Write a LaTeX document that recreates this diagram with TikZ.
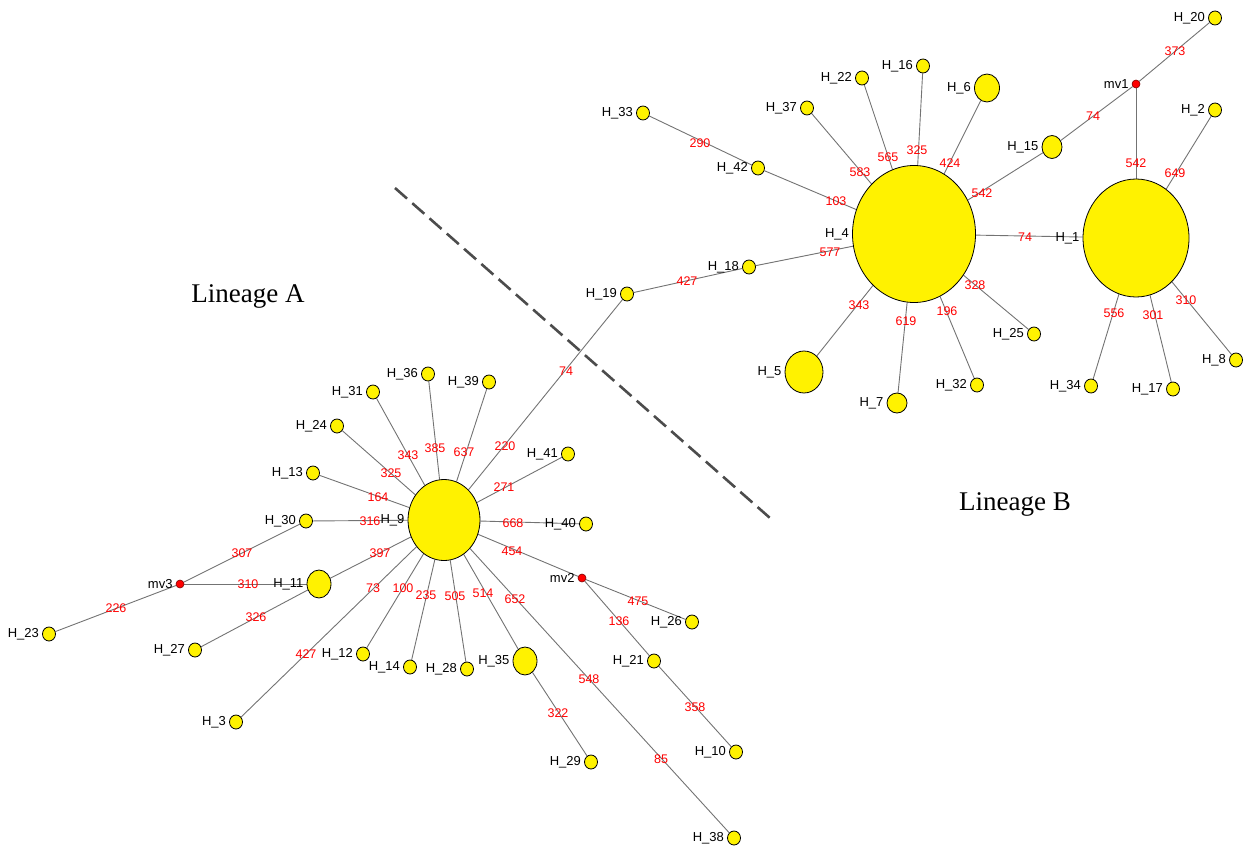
\documentclass[tikz,border=0pt]{standalone}
\usepackage{fontspec}
\setmainfont{Liberation Serif}
\newfontfamily\hfont{Liberation Sans}
\usetikzlibrary{shapes.geometric,backgrounds}
\tikzset{
  hap/.style={ellipse, draw=black, fill=yellow, inner sep=0pt, line width=0.8pt, minimum width=13pt, minimum height=14pt},
  mvn/.style={circle, draw=black!50!red, fill=red, inner sep=0pt, minimum size=8pt, line width=0.6pt},
  num/.style={text=red, font=\hfont\fontsize{12.5}{12.5}\selectfont, inner sep=0pt},
  hname/.style={font=\hfont\fontsize{13}{13}\selectfont, inner sep=0pt, text=black},
  conn/.style={draw=black!55, line width=0.9pt},
  lin/.style={font=\fontsize{27}{27}\selectfont, inner sep=0pt},
  divider/.style={draw=black!70, line width=2.6pt, dash pattern=on 16pt off 7pt}
}
\begin{document}
\begin{tikzpicture}[x=1pt, y=-1pt, label distance=3pt]
\useasboundingbox (0,0) rectangle (1246,848);
% ---------- Lineage B ----------
\node[hap, minimum width=123pt, minimum height=137pt, label={[hname]left:H\_4}] (h4) at (914,234) {};
\node[hap, minimum width=106pt, minimum height=118pt, label={[hname]left:H\_1}] (h1) at (1136,238) {};
\node[hap, minimum width=38pt, minimum height=42pt, label={[hname]left:H\_5}] (h5) at (804,372) {};
\node[hap, minimum width=25pt, minimum height=28pt, label={[hname]left:H\_6}] (h6) at (987,88) {};
\node[hap, minimum width=20pt, minimum height=23pt, label={[hname]left:H\_15}] (h15) at (1052,147) {};
\node[hap, minimum width=20pt, minimum height=20pt, label={[hname]left:H\_7}] (h7) at (897,403) {};
\node[hap, label={[hname]left:H\_33}] (h33) at (643,113) {};
\node[hap, label={[hname]left:H\_22}] (h22) at (862,78) {};
\node[hap, label={[hname]left:H\_16}] (h16) at (923,66) {};
\node[hap, label={[hname]left:H\_37}] (h37) at (807,108) {};
\node[hap, label={[hname]left:H\_42}] (h42) at (758,168) {};
\node[hap, label={[hname]left:H\_20}] (h20) at (1215,18) {};
\node[mvn, label={[hname]left:mv1}] (mv1) at (1136,84) {};
\node[hap, label={[hname]left:H\_2}] (h2) at (1215,110) {};
\node[hap, label={[hname]left:H\_18}] (h18) at (749,267) {};
\node[hap, label={[hname]left:H\_19}] (h19) at (627,294) {};
\node[hap, label={[hname]left:H\_32}] (h32) at (977,385) {};
\node[hap, label={[hname]left:H\_25}] (h25) at (1034,334) {};
\node[hap, label={[hname]left:H\_34}] (h34) at (1091,386) {};
\node[hap, label={[hname]left:H\_17}] (h17) at (1173,389) {};
\node[hap, label={[hname]left:H\_8}] (h8) at (1236,360) {};
% ---------- Lineage A ----------
\node[hap, minimum width=72pt, minimum height=81pt, label={[hname]left:H\_9}] (h9) at (444,520) {};
\node[hap, minimum width=24pt, minimum height=28pt, label={[hname]left:H\_11}] (h11) at (319,584) {};
\node[hap, minimum width=24pt, minimum height=28pt, label={[hname]left:H\_35}] (h35) at (525,661) {};
\node[hap, label={[hname]left:H\_31}] (h31) at (373,392) {};
\node[hap, label={[hname]left:H\_24}] (h24) at (337,426) {};
\node[hap, label={[hname]left:H\_13}] (h13) at (313,473) {};
\node[hap, label={[hname]left:H\_30}] (h30) at (306,521) {};
\node[hap, label={[hname]left:H\_36}] (h36) at (428,374) {};
\node[hap, label={[hname]left:H\_39}] (h39) at (489,382) {};
\node[hap, label={[hname]left:H\_41}] (h41) at (568,454) {};
\node[hap, label={[hname]left:H\_40}] (h40) at (586,524) {};
\node[mvn, label={[hname]left:mv3}] (mv3) at (180,584) {};
\node[hap, label={[hname]left:H\_23}] (h23) at (49,634) {};
\node[hap, label={[hname]left:H\_27}] (h27) at (195,650) {};
\node[hap, label={[hname]left:H\_3}] (h3) at (236,722) {};
\node[hap, label={[hname]left:H\_12}] (h12) at (363,654) {};
\node[hap, label={[hname]left:H\_14}] (h14) at (410,667) {};
\node[mvn, label={[hname]left:mv2}] (mv2) at (582,578) {};
\node[hap, label={[hname]left:H\_26}] (h26) at (692,622) {};
\node[hap, label={[hname]left:H\_28}] (h28) at (467,669) {};
\node[hap, label={[hname]left:H\_21}] (h21) at (654,661) {};
\node[hap, label={[hname]left:H\_29}] (h29) at (591,762) {};
\node[hap, label={[hname]left:H\_10}] (h10) at (736,752) {};
\node[hap, label={[hname]left:H\_38}] (h38) at (734,838) {};
% ---------- connectors ----------
\begin{pgfonlayer}{background}
\draw[conn] (h33) -- (h42);
\draw[conn] (h42) -- (h4);
\draw[conn] (h37) -- (h4);
\draw[conn] (h22) -- (h4);
\draw[conn] (h16) -- (h4);
\draw[conn] (h6) -- (h4);
\draw[conn] (h15) -- (h4);
\draw[conn] (h15) -- (mv1);
\draw[conn] (mv1) -- (h20);
\draw[conn] (mv1) -- (h1);
\draw[conn] (h2) -- (h1);
\draw[conn] (h4) -- (h1);
\draw[conn] (h4) -- (h18);
\draw[conn] (h18) -- (h19);
\draw[conn] (h19) -- (h9);
\draw[conn] (h4) -- (h5);
\draw[conn] (h4) -- (h7);
\draw[conn] (h4) -- (h32);
\draw[conn] (h4) -- (h25);
\draw[conn] (h1) -- (h34);
\draw[conn] (h1) -- (h17);
\draw[conn] (h1) -- (h8);
\draw[conn] (h31) -- (h9);
\draw[conn] (h24) -- (h9);
\draw[conn] (h13) -- (h9);
\draw[conn] (h30) -- (h9);
\draw[conn] (h36) -- (h9);
\draw[conn] (h39) -- (h9);
\draw[conn] (h41) -- (h9);
\draw[conn] (h40) -- (h9);
\draw[conn] (h9) -- (mv2);
\draw[conn] (h9) -- (h11);
\draw[conn] (h9) -- (h3);
\draw[conn] (h9) -- (h12);
\draw[conn] (h9) -- (h14);
\draw[conn] (h9) -- (h28);
\draw[conn] (h9) -- (h35);
\draw[conn] (h9) -- (h38);
\draw[conn] (h35) -- (h29);
\draw[conn] (mv2) -- (h26);
\draw[conn] (mv2) -- (h21);
\draw[conn] (h21) -- (h10);
\draw[conn] (h30) -- (mv3);
\draw[conn] (mv3) -- (h11);
\draw[conn] (mv3) -- (h23);
\draw[conn] (h11) -- (h27);
\end{pgfonlayer}
% ---------- mutation labels ----------
\node[num] (n290) at (700,143) {290};
\node[num] (n103) at (836,201) {103};
\node[num] (n583) at (860,172) {583};
\node[num] (n565) at (888,157) {565};
\node[num] (n325b) at (917,150) {325};
\node[num] (n424) at (950,163) {424};
\node[num] (n542a) at (982,193) {542};
\node[num] (n74a) at (1093,116) {74};
\node[num] (n373) at (1175,51) {373};
\node[num] (n542b) at (1136,163) {542};
\node[num] (n649) at (1175,173) {649};
\node[num] (n74b) at (1025,237) {74};
\node[num] (n328) at (975,285) {328};
\node[num] (n556) at (1114,313) {556};
\node[num] (n301) at (1153,315) {301};
\node[num] (n310b) at (1186,300) {310};
\node[num] (n577) at (830,252) {577};
\node[num] (n427a) at (687,281) {427};
\node[num] (n343b) at (859,305) {343};
\node[num] (n619) at (906,321) {619};
\node[num] (n196) at (947,311) {196};
\node[num] (n74c) at (566,371) {74};
\node[num] (n220) at (505,446) {220};
\node[num] (n271) at (504,487) {271};
\node[num] (n668) at (513,523) {668};
\node[num] (n454) at (512,551) {454};
\node[num] (n385) at (435,448) {385};
\node[num] (n637) at (464,452) {637};
\node[num] (n343a) at (408,455) {343};
\node[num] (n325a) at (391,473) {325};
\node[num] (n164) at (378,497) {164};
\node[num] (n316) at (370,521) {316};
\node[num] (n397) at (380,553) {397};
\node[num] (n307) at (242,553) {307};
\node[num] (n310a) at (248,584) {310};
\node[num] (n226) at (116,608) {226};
\node[num] (n326) at (256,617) {326};
\node[num] (n427b) at (306,654) {427};
\node[num] (n73) at (373,588) {73};
\node[num] (n100) at (403,588) {100};
\node[num] (n235) at (426,595) {235};
\node[num] (n505) at (455,596) {505};
\node[num] (n514) at (483,593) {514};
\node[num] (n652) at (515,599) {652};
\node[num] (n548) at (589,679) {548};
\node[num] (n85) at (661,759) {85};
\node[num] (n322) at (558,713) {322};
\node[num] (n475) at (638,601) {475};
\node[num] (n136) at (619,621) {136};
\node[num] (n358) at (695,707) {358};
% ---------- lineage division ----------
\coordinate (d1) at (395,188);
\coordinate (d2) at (770,518);
\draw[divider] (d1) -- (d2);
\node[lin] (linA) at (248,296) {Lineage A};
\node[lin] (linB) at (1015,504) {Lineage B};
\end{tikzpicture}
\end{document}
